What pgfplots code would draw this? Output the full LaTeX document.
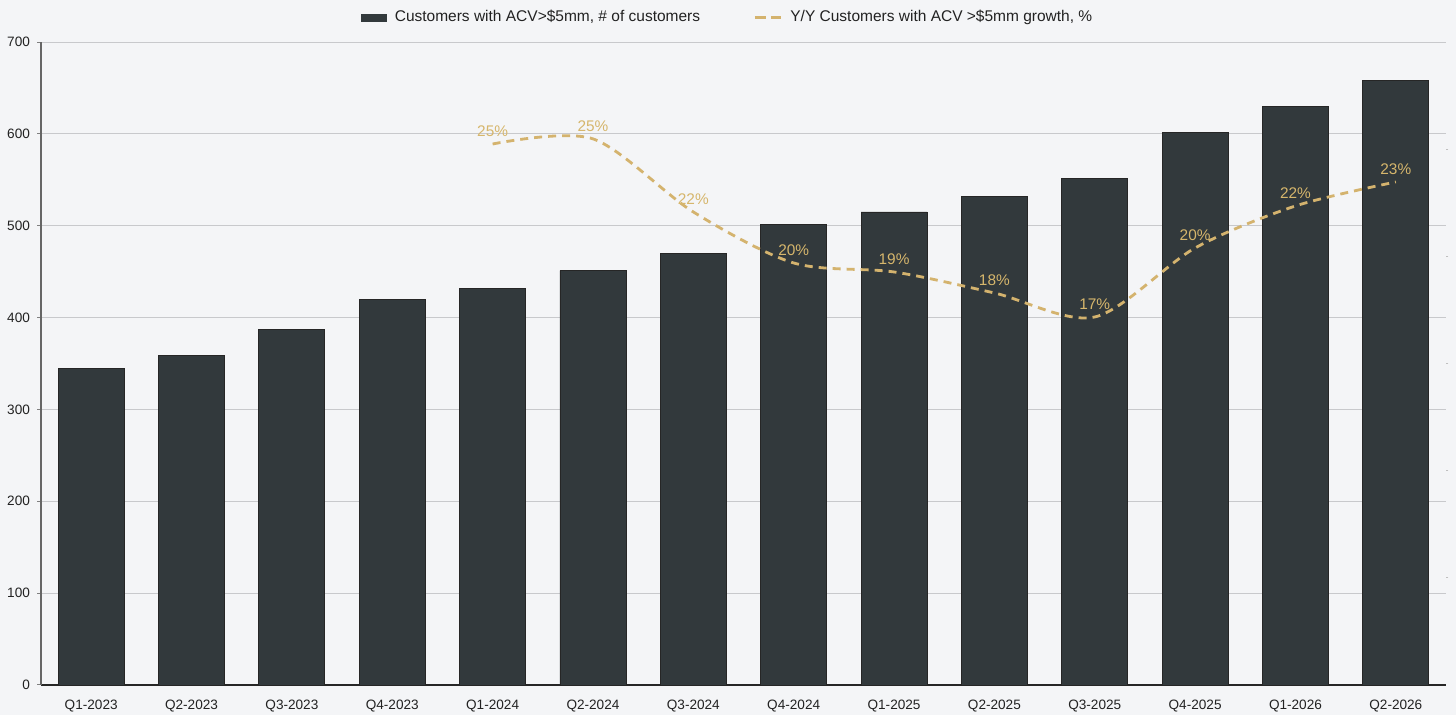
\documentclass[border=0pt]{standalone}
\usepackage{pgfplots}
\pgfplotsset{compat=1.18}
\usepackage{fontspec}
\setmainfont{Liberation Sans}
\definecolor{bg}{RGB}{244,245,247}
\definecolor{barc}{RGB}{50,57,60}
\definecolor{gold}{RGB}{212,179,110}
\definecolor{goldtxt}{RGB}{214,182,108}
\definecolor{gridc}{RGB}{200,201,204}
\definecolor{txt}{RGB}{34,34,34}

\pgfplotstableread{
x y
0 345
1 359
2 387
3 420
4 432
5 451
6 470
7 501
8 515
9 532
10 551
11 602
12 630
13 658
}\bars

\pgfplotstableread{
x g lab
4 25.24 25\%
5 25.48 25\%
6 22.07 22\%
7 19.69 20\%
8 19.27 19\%
9 18.29 18\%
10 17.17 17\%
11 20.39 20\%
12 22.35 22\%
13 23.47 23\%
}\growth

\begin{document}
\begin{tikzpicture}
\useasboundingbox (0,0) rectangle (728pt,357.5pt);
\fill[bg] (0,0) rectangle (728pt,357.5pt);
\begin{axis}[
  at={(20.5pt,15pt)}, anchor=south west,
  scale only axis, width=702.5pt, height=321.5pt,
  xmin=-0.5, xmax=13.5, ymin=0, ymax=700,
  ybar, bar width=33pt,
  axis x line*=bottom, axis y line*=left,
  x axis line style={-, draw=black!85, line width=1.1pt},
  y axis line style={-, draw=black!60, line width=0.6pt},
  xtick={0,...,13},
  xticklabels={Q1-2023,Q2-2023,Q3-2023,Q4-2023,Q1-2024,Q2-2024,Q3-2024,Q4-2024,Q1-2025,Q2-2025,Q3-2025,Q4-2025,Q1-2026,Q2-2026},
  major x tick style={draw=none},
  ytick={0,100,...,700},
  tick align=outside, major tick length=2pt,
  major y tick style={draw=black!50, line width=0.5pt},
  ymajorgrids, grid style={gridc, line width=0.5pt},
  tick label style={font=\fontsize{6.8}{8}\selectfont, text=txt},
  /pgf/number format/assume math mode=true,
  xticklabel style={yshift=-2pt},
  legend style={draw=none, fill=none, at={(0.488,1)}, anchor=center, yshift=12.2pt,
    legend columns=2, font=\fontsize{7.75}{9}\selectfont, text=txt,
    nodes={inner sep=0pt},
    /tikz/every odd column/.append style={column sep=4pt},
    /tikz/every even column/.append style={column sep=26.5pt}},
]
\addplot[fill=barc, draw=black!85, line width=0.4pt,
  legend image code/.code={\fill[barc] (0pt,-1.75pt) rectangle (12.5pt,1.75pt);}]
  table[x=x,y=y] {\bars};
\addlegendentry{Customers with ACV>\$5mm, \# of customers}
\addlegendimage{legend image code/.code={\draw[gold, line width=1.6pt, dash pattern=on 5.5pt off 2.5pt] (0pt,0pt) -- (13pt,0pt);}}
\addlegendentry{Y/Y Customers with ACV >\$5mm growth, \%}
\end{axis}
\begin{axis}[
  at={(20.5pt,15pt)}, anchor=south west,
  scale only axis, width=702.5pt, height=321.5pt,
  xmin=-0.5, xmax=13.5, ymin=0, ymax=30,
  axis x line=none, axis y line*=right,
  y axis line style={draw=none},
  ytick={5,10,15,20,25}, yticklabels={},
  yticklabel style={inner sep=0pt},
  tick align=outside, major tick length=1.2pt,
  major y tick style={draw=black!25, line width=0.4pt},
  clip=false,
]
\addplot[gold, line width=1.4pt, dash pattern=on 4pt off 3pt, smooth,
  nodes near coords, point meta=explicit symbolic,
  every node near coord/.style={font=\fontsize{7.7}{9}\selectfont, text=goldtxt, anchor=base, inner sep=0pt, yshift=3.8pt}]
  table[x=x,y=g,meta=lab] {\growth};
\end{axis}
\end{tikzpicture}
\end{document}
